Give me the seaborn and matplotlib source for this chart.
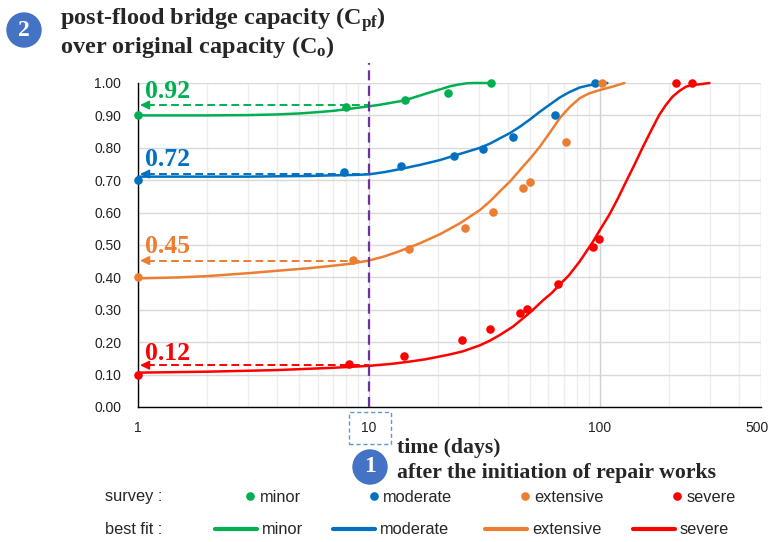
import numpy as np
import pandas as pd
import matplotlib
matplotlib.use("Agg")
import matplotlib.pyplot as plt
import seaborn as sns
from matplotlib.ticker import LogLocator, NullFormatter, FixedLocator
from matplotlib.patches import Circle, Rectangle
from matplotlib.lines import Line2D
from matplotlib.transforms import IdentityTransform, ScaledTranslation

# ---------------- data ----------------
# survey points
minor_x = [1, 8.0, 14.3, 22.0, 33.7]
minor_y = [0.90, 0.926, 0.948, 0.969, 1.00]
moderate_x = [1, 7.8, 13.8, 23.4, 31.1, 42.2, 64.1, 95.8]
moderate_y = [0.70, 0.726, 0.743, 0.774, 0.796, 0.833, 0.901, 1.00]
extensive_x = [1, 8.5, 15.0, 26.0, 34.5, 46.5, 50.1, 71.5, 102.8]
extensive_y = [0.40, 0.454, 0.488, 0.552, 0.602, 0.675, 0.694, 0.819, 1.00]
severe_x = [1, 8.2, 14.2, 25.4, 33.4, 45.1, 48.3, 65.9, 93.5, 99.3, 214, 252]
severe_y = [0.10, 0.133, 0.157, 0.207, 0.240, 0.289, 0.304, 0.380, 0.494, 0.519, 1.00, 1.00]

# best-fit curves
fit_minor_x = [1, 2, 3, 4, 5, 6, 7, 8, 10, 11.2, 12.5, 14, 15.3, 16.6, 18.4, 20.3, 22.5, 24.8, 26.5, 28.4, 31, 33.5]
fit_minor_y = [0.900, 0.900, 0.901, 0.903, 0.906, 0.910, 0.914, 0.919, 0.928, 0.933, 0.939, 0.945, 0.953, 0.961, 0.971, 0.980, 0.990, 0.996, 0.999, 1.000, 1.000, 1.000]
fit_moderate_x = [1, 2, 3, 4, 5.5, 7, 8.5, 10, 11.7, 13.6, 16.6, 20.3, 24.8, 30.3, 33.5, 36.9, 41, 45.1, 50, 55.0, 61, 67.1, 74, 81.9, 90, 100, 108]
fit_moderate_y = [0.711, 0.711, 0.711, 0.712, 0.713, 0.715, 0.716, 0.718, 0.725, 0.734, 0.747, 0.762, 0.781, 0.800, 0.813, 0.829, 0.846, 0.865, 0.888, 0.911, 0.934, 0.955, 0.972, 0.986, 0.993, 0.997, 1.000]
fit_extensive_x = [1, 1.5, 2, 3, 4.1, 5.4, 6.8, 8.3, 10, 11.7, 13.6, 16.6, 20.3, 24.8, 30.3, 33.5, 36.9, 41, 45.1, 50, 55.0, 61, 67.1, 74, 81.9, 90, 100, 114, 128]
fit_extensive_y = [0.397, 0.400, 0.404, 0.413, 0.421, 0.428, 0.435, 0.442, 0.452, 0.465, 0.481, 0.505, 0.533, 0.567, 0.608, 0.635, 0.665, 0.697, 0.731, 0.767, 0.803, 0.848, 0.891, 0.925, 0.953, 0.968, 0.978, 0.989, 1.000]
fit_severe_x = [1, 2, 4, 7, 10, 12.5, 15, 17.5, 20, 22.7, 25.6, 30.2, 33.5, 36.9, 42.1, 50, 57, 62, 67.0, 73.7, 81.9, 93.5, 101, 110, 120, 130, 142, 154, 167, 181, 194, 207, 222, 237, 254, 271, 299]
fit_severe_y = [0.106, 0.109, 0.114, 0.121, 0.127, 0.133, 0.140, 0.147, 0.155, 0.163, 0.172, 0.190, 0.205, 0.222, 0.248, 0.292, 0.330, 0.352, 0.377, 0.407, 0.449, 0.510, 0.550, 0.593, 0.644, 0.695, 0.750, 0.803, 0.853, 0.901, 0.933, 0.958, 0.976, 0.989, 0.994, 0.996, 1.000]

# values at day 10 (dashed arrows)
labels_10 = ["0.92", "0.72", "0.45", "0.12"]
arrow_y = [0.932, 0.719, 0.452, 0.129]

x_ticks = [1, 10, 100, 500]
x_ticklabels = ["1", "10", "100", "500"]
y_ticks = [0.0, 0.1, 0.2, 0.3, 0.4, 0.5, 0.6, 0.7, 0.8, 0.9, 1.0]

names = ["minor", "moderate", "extensive", "severe"]
colors = ["#00B050", "#0070C0", "#ED7D31", "#FF0000"]
purple = "#7030A0"

# ---------------- style ----------------
sns.set_theme(style="white")
plt.rcParams["font.family"] = ["Liberation Sans", "DejaVu Sans"]
plt.rcParams["mathtext.fontset"] = "custom"
plt.rcParams["mathtext.bf"] = "Liberation Serif:bold"
plt.rcParams["mathtext.rm"] = "Liberation Serif"
plt.rcParams["mathtext.it"] = "Liberation Serif:italic"
SERIF = ["Liberation Serif", "DejaVu Serif"]

W, H = 769, 542
fig = plt.figure(figsize=(W / 100, H / 100), dpi=100)
ax = fig.add_axes([138 / W, 1 - 407 / H, (761 - 138) / W, (407 - 83) / H])

survey = [(minor_x, minor_y), (moderate_x, moderate_y), (extensive_x, extensive_y), (severe_x, severe_y)]
fits = [(fit_minor_x, fit_minor_y), (fit_moderate_x, fit_moderate_y),
        (fit_extensive_x, fit_extensive_y), (fit_severe_x, fit_severe_y)]

for (fx, fy), c in zip(fits, colors):
    df = pd.DataFrame({"x": fx, "y": fy})
    sns.lineplot(data=df, x="x", y="y", color=c, lw=1.8, estimator=None, sort=False,
                 ax=ax, clip_on=False, zorder=3)
for (sx, sy), c in zip(survey, colors):
    df = pd.DataFrame({"x": sx, "y": sy})
    sns.scatterplot(data=df, x="x", y="y", color=c, s=38, linewidth=0, ax=ax,
                    clip_on=False, zorder=4)

ax.set_xscale("log")
ax.set_xlim(1, 500)
ax.set_ylim(0, 1.0)
ax.xaxis.set_major_locator(FixedLocator(x_ticks))
ax.set_xticklabels(x_ticklabels)
ax.xaxis.set_minor_locator(LogLocator(base=10, subs=np.arange(2, 10)))
ax.xaxis.set_minor_formatter(NullFormatter())
ax.set_yticks(y_ticks)
ax.set_yticklabels([f"{v:.2f}" for v in y_ticks])
ax.tick_params(axis="both", which="both", length=0, labelsize=10, colors="#222222")
ax.tick_params(axis="x", pad=10)
ax.tick_params(axis="y", pad=12)
ax.set_xlabel("")
ax.set_ylabel("")
# nudge the last x label ("500") slightly left, as in the reference
last = ax.get_xticklabels()[-1]
last.set_transform(last.get_transform() + ScaledTranslation(-4 / 100, 0, fig.dpi_scale_trans))

ax.grid(which="major", axis="y", color="#D9D9D9", lw=1.0)
ax.grid(which="major", axis="x", color="#D0D0D0", lw=1.0)
ax.grid(which="minor", axis="x", color="#EDEDED", lw=1.0)
ax.set_axisbelow(True)
for s in ["top", "right"]:
    ax.spines[s].set_visible(False)
for s in ["left", "bottom"]:
    ax.spines[s].set_color("black")
    ax.spines[s].set_linewidth(1.0)

# purple vertical dashed line at day 10
ax.axvline(10, ymin=0, ymax=(407 - 63) / 324, color=purple, lw=1.6,
           linestyle=(0, (4.5, 2.5)), clip_on=False, zorder=5)

# dashed arrows and value labels
label_y = [0.975, 0.763, 0.496, 0.166]
for yv, lab, ly, c in zip(arrow_y, labels_10, label_y, colors):
    ax.plot([1.09, 10], [yv, yv], color=c, lw=1.4, linestyle=(0, (4, 2.2)), zorder=3)
    ax.annotate("", xy=(1.02, yv), xytext=(1.12, yv),
                arrowprops=dict(arrowstyle="-|>,head_length=0.45,head_width=0.22",
                                color=c, lw=1.2, shrinkA=0, shrinkB=0), zorder=3)
    ax.text(1.075, ly, lab, color=c, fontsize=18.5, fontweight="bold",
            family=SERIF, ha="left", va="center")

# titles (y axis)
fig.text(60 / W, 1 - 20 / H, r"post-flood bridge capacity (C$_{\mathbf{pf}}$)",
         fontsize=17.5, fontweight="bold", family=SERIF, ha="left", va="center")
fig.text(60 / W, 1 - 47 / H, r"over original capacity (C$_{\mathbf{o}}$)",
         fontsize=17.5, fontweight="bold", family=SERIF, ha="left", va="center")

# x axis title
fig.text(397 / W, 1 - 448 / H, "time (days)", fontsize=15.7, fontweight="bold",
         family=SERIF, ha="left", va="center")
fig.text(397 / W, 1 - 473 / H, "after the initiation of repair works", fontsize=15.7,
         fontweight="bold", family=SERIF, ha="left", va="center")

# badges
for (cx, cy, t) in [(24, 30, "2"), (370, 467, "1")]:
    circ = Circle((cx, H - cy), 17, transform=IdentityTransform(), color="#4472C4", zorder=10)
    fig.add_artist(circ)
    fig.text(cx / W, 1 - cy / H, t, color="white", fontsize=17, fontweight="bold",
             family=SERIF, ha="center", va="center", zorder=11)

# dashed box around "10"
fig.add_artist(Rectangle((349 / W, 1 - 444 / H), 42 / W, 32 / H, transform=fig.transFigure,
                         fill=False, edgecolor="#5B9BD5", lw=1.0, linestyle=(0, (3, 2))))

# legend rows
LFS = 11.8
fig.text(105 / W, 1 - 497 / H, "survey :", fontsize=LFS, ha="left", va="center")
fig.text(105 / W, 1 - 530 / H, "best fit :", fontsize=LFS, ha="left", va="center")
marker_left = [245, 368.6, 519.7, 671.7]
line_left = [215, 333, 485, 633]
for nm, c, ml, ll in zip(names, colors, marker_left, line_left):
    h = Line2D([], [], marker="o", color=c, linestyle="none", markersize=5.2)
    fig.legend(handles=[h], labels=[nm], loc="center left",
               bbox_to_anchor=(ml / W, 1 - 497 / H), frameon=False, fontsize=LFS,
               handlelength=0.6, handletextpad=0.3, borderpad=0, borderaxespad=0)
    h2 = Line2D([], [], color=c, lw=3.0)
    fig.legend(handles=[h2], labels=[nm], loc="center left",
               bbox_to_anchor=(ll / W, 1 - 530 / H), frameon=False, fontsize=LFS,
               handlelength=2.56, handletextpad=0.3, borderpad=0, borderaxespad=0)

fig.savefig("out.png", dpi=100)
